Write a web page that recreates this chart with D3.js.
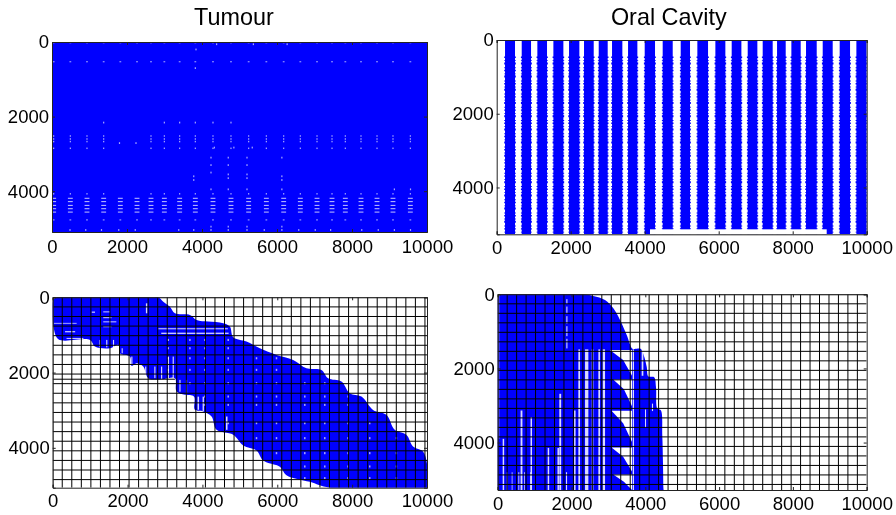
<!DOCTYPE html>
<html>
<head>
<meta charset="utf-8">
<script src="https://cdn.jsdelivr.net/npm/d3@7"></script>
<style>
html,body{margin:0;padding:0;background:#fff;}
svg{display:block;filter:blur(0.35px);}
text{font-family:"Liberation Sans",Arial,sans-serif;fill:#000;}
</style>
</head>
<body>
<svg id="c" width="896" height="515"></svg>
<script>
const titles = ["Tumour", "Oral Cavity"];
const xTicks = [0, 2000, 4000, 6000, 8000, 10000];
const yTicks = [0, 2000, 4000];

// Tumour, occupancy: columns and rows in which the pattern has gaps
const tumourCols = [44,489,933,1378,1822,2267,2640,2996,3404,3822,4293,4773,5244,5716,6178,6622,7067,7467,7822,8240,8667,9093,9556];
const tumourRowsSparse = [20,530,4770];
const tumourRowsMid = [2520,2600,2670,2850,4070];
const tumourRowsDense = [4190,4280,4380,4470,4560];
const tumourExtra = [[1378,2160],[2996,2160],[3404,2160],[3822,2160],[4293,2160],[4773,2160],
 [3822,700],[4240,3100],[4240,3300],[4240,3500],[4700,3100],[4700,3300],[4700,3550],[4700,3650],[5200,3100],[5200,3300],[5200,3550],[5200,3650],
 [6130,3100],[6130,3600],[6130,3700],[3780,3600],[3780,3700],[4240,3950],[4700,3950],[5200,3950],[6130,3950],[9130,3950],[9560,3950],
 [4330,2830],[4850,2830],[5340,2830],[1800,2710],[2240,2710],[3840,200],[4390,60],[5370,60],[6270,60],[480,5040],[900,5040],[1320,5040],[1780,5040],[2220,5040],
 [3380,5040],[3780,5040],[4240,5040],[4240,4950],[4700,5040],[4700,4950],[5200,5040],[5200,4950],[5660,5040],[6130,5040],[6130,4950],[6580,5040],[7020,5040],[7430,5040],[8260,5040],[8700,5040],[9130,5040],[9560,5040]];

// Oral Cavity, occupancy: filled bands [start, end]
const oralBands = [[225,495],[676,928],[1099,1360],[1532,1802],[1955,2234],[2360,2622],[2757,3000],[3117,3396],[3550,3802],[4000,4279],[4486,4757],[4973,5225],[5423,5712],[5910,6180],[6351,6613],[6784,7045],[7189,7459],[7577,7811],[7964,8216],[8360,8649],[8811,9081],[9270,9550],[9721,10000]];
const oralFloor = [4143, 8919, 5135];

// Tumour, factor pattern outline
const tumourOutline = [[0,100],[100,0],[2700,0],[2820,0],[2954,115],[3132,248],[3265,425],[3666,470],[3843,602],[4155,646],[4555,690],[4733,779],[4822,1062],[5178,1177],[5534,1354],[5979,1531],[6424,1664],[6780,1885],[7180,1929],[7358,2150],[7714,2239],[7936,2549],[8248,2638],[8559,2992],[8915,3124],[9137,3522],[9449,3655],[9627,3965],[9894,4098],[10000,4425],[10000,5060],
 [7402,5060],[6868,4903],[6246,4726],[6068,4505],[5623,4336],[5445,4071],[5089,3938],[4822,3655],[4377,3522],[4244,3168],[4021,3035],[3799,2991],[3772,2637],[3532,2593],[3310,2504],[3265,2150],[2954,2177],[2553,2150],[2420,1841],[2242,1752],[2109,1823],[2064,1575],[1797,1487],[1753,1266],[1530,1354],[1130,1310],[996,1133],[151,1115],[18,779],[0,690]];
// gaps: [x0, x1, y0, y1]
const tumourGaps = [[1842,1870,1354,1487],[2100,2130,1575,1800],[2470,2500,1840,2150],[2715,2745,1840,2150],[2895,2925,1840,2177],[3075,3105,1575,2177],[3205,3235,1575,2177],[3385,3415,2195,2510],[3560,3590,2195,2590],[3870,3910,2640,2990],[4005,4040,2640,3030],[4630,4670,3168,3522],[1250,1280,1133,1330],[1430,1460,1133,1330],[1610,1640,1133,1330],[2490,2530,160,425],
 [2820,4680,823,850],[2900,4700,940,973],[1040,1130,380,410],[1350,1530,375,400],[1350,1570,530,555],[1350,1700,640,665],[1350,1570,770,795],[30,640,680,700],[330,600,900,930],[370,820,1080,1105]];
const tumourSpeckCols = [3087,3666,4066,4689,5445,5979,6735,7269,7892,8470,9182];
const tumourSpeckRows = [1133,1354,1620,1929,2283,2637,2858,3345,3743,4142,4496,4806];

// Oral Cavity, factor pattern outline
const oralOutline = [[0,100],[100,0],[2200,0],[2321,0],[2592,45],[2908,153],[3134,378],[3315,694],[3496,1099],[3640,1459],[3700,1475],[3880,1475],[3960,1650],[4038,1955],[4083,2215],[4240,2235],[4290,2500],[4327,3090],[4420,3126],[4460,3800],[4480,4600],[4489,5200],[4489,5400],[4300,5400],[0,5400],[-100,5000]];
const oralTriangles = [
 [[3040,1500],[3640,1500],[3640,2200],[3400,1775]],
 [[3130,2300],[3640,2300],[3640,3020],[3420,2560]],
 [[3085,3140],[3640,3140],[3640,3985],[3400,3480]],
 [[3085,4130],[3640,4130],[3640,4780],[3400,4380]],
 [[3130,4860],[3640,4860],[3640,5280],[3420,5060]]];
const oralGaps = [[2186,2231,1486,5280],[2367,2457,1486,5280],[2547,2592,1486,5280],[2728,2773,1486,5280],[2845,2909,1486,5280],[3658,3694,1486,5280],[3902,3947,1486,2198],[3992,4020,3108,3600],[4180,4210,2950,3150],
 [620,670,3135,5280],[890,930,3315,5280],[1670,1720,2685,5280],[2070,2110,3135,5280],[1355,1395,4144,5280],[1620,1660,4144,5280],[135,175,3900,5280],[245,265,4800,5280],[380,400,4800,5280],[560,585,4800,5280],[715,735,4800,5280],[875,895,4800,5280],[1850,1880,4800,5280],
 [1860,1890,130,260],[1860,1890,330,520],[1860,1890,590,790],[1860,1890,860,1130],[1860,1890,1200,1460]];
const oralLight = [[0,50,0,3900]];

const gridStepTumour = 255, gridStepOral = 256.5;

const svg = d3.select("#c");
const blue = "#0000ff";

function panel(id, px0, px1, py0, py1, xMax, yMax, labelGap) {
  const x = d3.scaleLinear().domain([0, xMax]).range([px0, px1]);
  const y = d3.scaleLinear().domain([0, yMax]).range([py0, py1]);
  svg.append("clipPath").attr("id", id).append("rect")
    .attr("x", px0).attr("y", py0).attr("width", px1 - px0).attr("height", py1 - py0);
  const g = svg.append("g").attr("clip-path", `url(#${id})`);
  return {x, y, g, px0, px1, py0, py1, labelGap};
}
function rects(p, data, fill, op) {
  p.g.append("g").selectAll("rect").data(data).join("rect")
    .attr("x", d => p.x(d[0])).attr("width", d => p.x(d[1]) - p.x(d[0]))
    .attr("y", d => p.y(d[2])).attr("height", d => p.y(d[3]) - p.y(d[2]))
    .attr("fill", fill).attr("fill-opacity", op === undefined ? 1 : op);
}
function grid(p, step) {
  const vs = d3.range(0, p.x.domain()[1] + 1, step);
  const hs = d3.range(0, p.y.domain()[1] + 1, step);
  p.g.append("g").selectAll("line").data(vs).join("line")
    .attr("x1", d => p.x(d)).attr("x2", d => p.x(d)).attr("y1", p.py0).attr("y2", p.py1)
    .attr("stroke", "#000").attr("stroke-width", 1);
  p.g.append("g").selectAll("line").data(hs).join("line")
    .attr("y1", d => p.y(d)).attr("y2", d => p.y(d)).attr("x1", p.px0).attr("x2", p.px1)
    .attr("stroke", "#000").attr("stroke-width", 1);
}
function axes(p) {
  const f = d3.format("d");
  const a = svg.append("g");
  const bottom = a.append("g").attr("transform", `translate(0,${p.py1})`)
    .call(d3.axisBottom(p.x).tickValues(xTicks).tickFormat(f).tickSize(-3).tickPadding(p.labelGap));
  const left = a.append("g").attr("transform", `translate(${p.px0},0)`)
    .call(d3.axisLeft(p.y).tickValues(yTicks).tickFormat(f).tickSize(-3).tickPadding(3));
  const top = a.append("g").attr("transform", `translate(0,${p.py0})`)
    .call(d3.axisTop(p.x).tickValues(xTicks).tickFormat("").tickSize(-3));
  const right = a.append("g").attr("transform", `translate(${p.px1},0)`)
    .call(d3.axisRight(p.y).tickValues(yTicks).tickFormat("").tickSize(-3));
  [bottom, left, top, right].forEach(s => {
    s.selectAll("text").attr("font-size", 18.5).attr("fill", "#000");
    s.selectAll("path,line").attr("stroke", "#222");
    s.attr("font-family", null);
  });
}
const smooth = (p) => d3.line().x(d => p.x(d[0])).y(d => p.y(d[1])).curve(d3.curveCatmullRomClosed.alpha(0.5));
const straight = (p) => d3.line().x(d => p.x(d[0])).y(d => p.y(d[1]));
const poly = (p, pts, fill, curved) => p.g.append("path")
  .attr("d", curved ? smooth(p)(pts) : straight(p)(pts) + "Z").attr("fill", fill);

// ---- Tumour occupancy
const p1 = panel("p1", 52, 427, 42, 232, 10000, 5094, 8);
rects(p1, [[0, 10000, 0, 5094]], blue);
const speck = (cols, rows, hw, hh, op) => {
  const pts = cols.flatMap(c => rows.map(r => [c - hw, c + hw, r - hh, r + hh]));
  rects(p1, pts, "#fff", op);
};
speck(tumourCols, tumourRowsSparse, 24, 14, .65);
speck(tumourCols.filter(c => c !== 1822 && c !== 2267), tumourRowsMid, 16, 20, .65);
speck(tumourCols, tumourRowsDense, 65, 13, .8);
rects(p1, tumourExtra.map(d => [d[0] - 16, d[0] + 16, d[1] - 24, d[1] + 24]), "#fff", .65);
axes(p1);

// ---- Oral cavity occupancy
const p2 = panel("p2", 496.7, 866.7, 40, 234.3, 10000, 5270, 7);
rects(p2, oralBands.map(b => [b[0], b[1], 0, 5270]), blue);
const edges = oralBands.flatMap(b => [b[0], b[1]]);
p2.g.append("g").selectAll("line").data(edges).join("line")
  .attr("x1", d => p2.x(d)).attr("x2", d => p2.x(d))
  .attr("y1", p2.y(450)).attr("y2", p2.y(5270))
  .attr("stroke", blue).attr("stroke-width", 1.6).attr("stroke-dasharray", "1.4 2.2 0.8 1.4 2 2.8 1 1.6");
rects(p2, [[oralFloor[0], oralFloor[1], oralFloor[2], 5270]], "#fff");
axes(p2);

// ---- Tumour factor pattern
const p3 = panel("p3", 52.7, 427, 297.3, 487.7, 10000, 5060, 6.5);
poly(p3, tumourOutline, blue, true);
rects(p3, tumourGaps, "#fff", .85);
rects(p3, tumourSpeckCols.flatMap((c, i) => tumourSpeckRows
  .filter((r, j) => r > (c - 2400) * 0.45)
  .map(r => [c - 20, c + 20, r - 28, r + 28])), "#fff", .65);
grid(p3, gridStepTumour);
p3.g.append("line").attr("x1", p3.x(0)).attr("x2", p3.x(3265)).attr("y1", p3.y(2177)).attr("y2", p3.y(2177)).attr("stroke", "#000");
axes(p3);

// ---- Oral cavity factor pattern
const p4 = panel("p4", 497.7, 866.7, 294.3, 490, 10000, 5280, 7);
poly(p4, oralOutline, blue, true);
rects(p4, oralLight, "#fff", .3);
rects(p4, oralGaps, "#fff", .85);
oralTriangles.forEach(t => poly(p4, t, "#fff"));
grid(p4, gridStepOral);
axes(p4);

// ---- Titles
svg.append("text").attr("x", p1.x(4850)).attr("y", 25).attr("text-anchor", "middle").attr("font-size", 23.4).text(titles[0]);
svg.append("text").attr("x", p2.x(4650)).attr("y", 25).attr("text-anchor", "middle").attr("font-size", 23.4).text(titles[1]);
</script>
</body>
</html>
